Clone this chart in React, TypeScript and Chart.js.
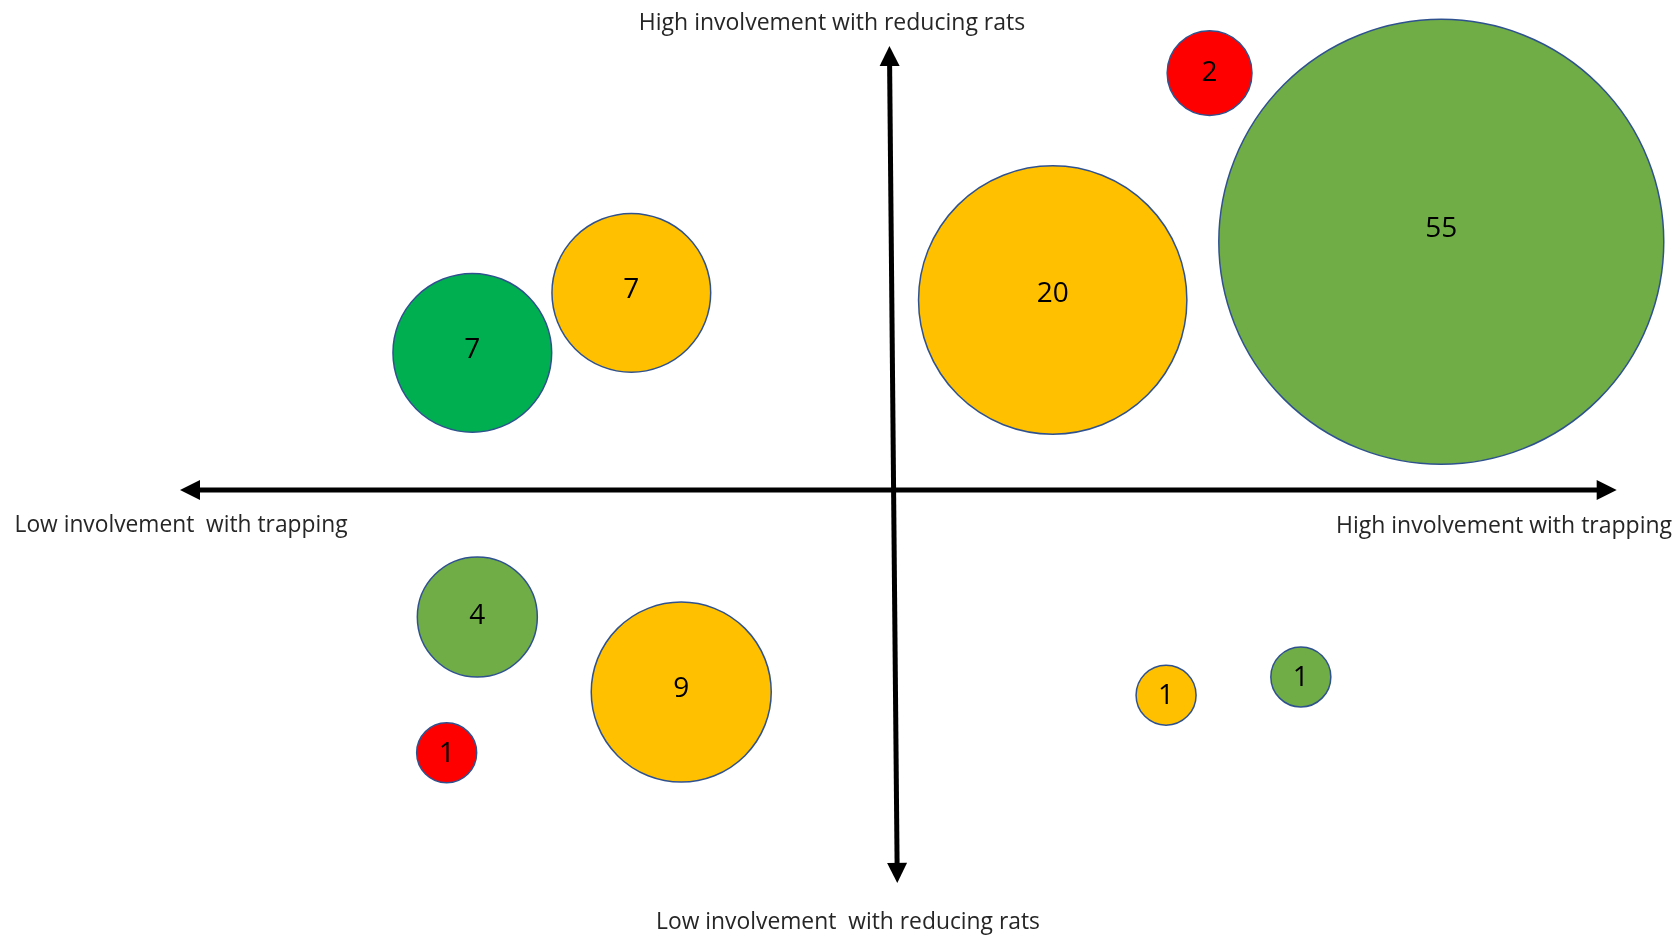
import React, { useEffect, useRef } from "react";
import { Chart, registerables } from "chart.js";

Chart.register(...registerables);

// ---- Data ----
const bubbleCounts = [2, 55, 20, 7, 7, 4, 9, 1, 1, 1];
// involvement with trapping (x) and with reducing rats (y), axis origin at 0
const trappingScores = [4.44, 7.69, 2.24, -3.67, -5.9, -5.83, -2.97, -6.26, 3.83, 5.72];
const reducingScores = [9.39, 5.59, 4.28, 4.44, 3.09, -2.86, -4.55, -5.92, -4.62, -4.21];
const bubbleGroups = [
  "red",
  "lightGreen",
  "amber",
  "amber",
  "darkGreen",
  "lightGreen",
  "amber",
  "red",
  "amber",
  "lightGreen",
];

const topLabel = "High involvement with reducing rats";
const bottomLabel = "Low involvement  with reducing rats";
const leftLabel = "Low involvement  with trapping";
const rightLabel = "High involvement with trapping";

// ---- Styles ----
const groupColors: Record<string, string> = {
  red: "#FF0000",
  amber: "#FFC000",
  lightGreen: "#70AD47",
  darkGreen: "#00B050",
};
const RADIUS_PER_SQRT_COUNT = 30;

function drawDoubleArrow(
  ctx: CanvasRenderingContext2D,
  x1: number,
  y1: number,
  x2: number,
  y2: number
) {
  const head = 20;
  const half = 10;
  const ang = Math.atan2(y2 - y1, x2 - x1);
  const cos = Math.cos(ang);
  const sin = Math.sin(ang);
  ctx.save();
  ctx.strokeStyle = "#000";
  ctx.fillStyle = "#000";
  ctx.lineWidth = 5;
  ctx.beginPath();
  ctx.moveTo(x1 + cos * (head - 2), y1 + sin * (head - 2));
  ctx.lineTo(x2 - cos * (head - 2), y2 - sin * (head - 2));
  ctx.stroke();
  const tri = (tx: number, ty: number, dirCos: number, dirSin: number) => {
    const bx = tx - dirCos * head;
    const by = ty - dirSin * head;
    ctx.beginPath();
    ctx.moveTo(tx, ty);
    ctx.lineTo(bx - dirSin * half, by + dirCos * half);
    ctx.lineTo(bx + dirSin * half, by - dirCos * half);
    ctx.closePath();
    ctx.fill();
  };
  tri(x2, y2, cos, sin);
  tri(x1, y1, -cos, -sin);
  ctx.restore();
}

const quadrantPlugin = {
  id: "quadrantAxes",
  beforeDatasetsDraw(chart: any) {
    const ctx: CanvasRenderingContext2D = chart.ctx;
    const xs = chart.scales.x;
    const ys = chart.scales.y;
    // horizontal axis
    drawDoubleArrow(
      ctx,
      xs.getPixelForValue(-10),
      ys.getPixelForValue(0),
      xs.getPixelForValue(10.15),
      ys.getPixelForValue(0)
    );
    // vertical axis
    drawDoubleArrow(
      ctx,
      xs.getPixelForValue(0.06),
      ys.getPixelForValue(-8.85),
      xs.getPixelForValue(-0.05),
      ys.getPixelForValue(10)
    );
  },
  afterDatasetsDraw(chart: any) {
    const ctx: CanvasRenderingContext2D = chart.ctx;
    const meta = chart.getDatasetMeta(0);
    ctx.save();
    ctx.fillStyle = "#000";
    ctx.textAlign = "center";
    ctx.textBaseline = "middle";
    ctx.font = "28px 'Open Sans'";
    meta.data.forEach((el: any, i: number) => {
      const r = el.options.radius;
      ctx.fillText(String(bubbleCounts[i]), el.x, el.y - r * 0.07 + 3);
    });

    ctx.fillStyle = "#262626";
    ctx.font = "23px 'Open Sans'";
    ctx.fillText(topLabel, 832, 23, 390);
    ctx.fillText(bottomLabel, 848, 922, 384);
    ctx.fillText(leftLabel, 181, 525, 333);
    ctx.fillText(rightLabel, 1504, 526, 339);
    ctx.restore();
  },
};

export default function App() {
  const canvasRef = useRef<HTMLCanvasElement | null>(null);

  useEffect(() => {
    if (!canvasRef.current) return;
    const data = bubbleCounts.map((c, i) => ({
      x: trappingScores[i],
      y: reducingScores[i],
      r: RADIUS_PER_SQRT_COUNT * Math.sqrt(c),
    }));
    const chart = new Chart(canvasRef.current, {
      type: "bubble",
      data: {
        datasets: [
          {
            data,
            backgroundColor: bubbleGroups.map((g) => groupColors[g]),
            borderColor: "#2F528F",
            borderWidth: 1.5,
            clip: false as any,
          },
        ],
      },
      options: {
        responsive: false,
        animation: false,
        events: [],
        layout: {
          autoPadding: false,
          padding: { left: 180, right: 73, top: 46, bottom: 2 },
        },
        scales: {
          x: { type: "linear", min: -10, max: 10, display: false },
          y: { type: "linear", min: -10, max: 10, display: false },
        },
        plugins: {
          legend: { display: false },
          tooltip: { enabled: false },
        },
      },
      plugins: [quadrantPlugin],
    });
    return () => chart.destroy();
  }, []);

  return (
    <div
      style={{
        position: "fixed",
        left: 0,
        top: 0,
        width: 1679,
        height: 936,
        background: "#fff",
      }}
    >
      <canvas ref={canvasRef} width={1679} height={936} />
    </div>
  );
}
